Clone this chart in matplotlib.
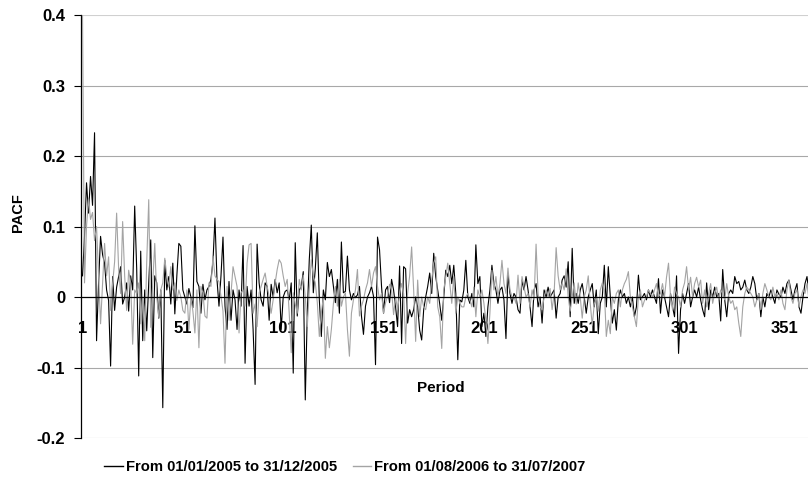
import numpy as np
import matplotlib
matplotlib.use('Agg')
import matplotlib.pyplot as plt
from matplotlib.lines import Line2D

plt.rcParams['font.family'] = ['Liberation Sans', 'DejaVu Sans']
plt.rcParams['font.weight'] = 'bold'
plt.rcParams['font.size'] = 10

# PACF values, lag 1..363
pacf_2005 = [
    0.03, 0.086, 0.162, 0.119, 0.171, 0.13, 0.233, -0.062, 0.02, 0.086,
    0.06, 0.048, 0.01, -0.005, -0.098, 0.029, -0.019, 0.014, 0.029, 0.043,
    -0.01, 0.0, 0.02, -0.02, 0.03, 0.01, 0.129, 0.04, -0.112, 0.065,
    -0.062, 0.01, -0.048, 0.02, 0.081, -0.086, 0.03, 0.02, -0.03, 0.01,
    -0.157, 0.052, 0.01, 0.029, -0.01, 0.048, -0.024, 0.03, 0.076, 0.072,
    0.01, 0.0, -0.01, 0.012, 0.0, -0.015, 0.101, 0.022, 0.015, -0.023,
    0.018, -0.004, 0.01, 0.015, 0.025, 0.05, 0.112, 0.025, -0.013, 0.03,
    0.085, -0.013, -0.046, 0.022, -0.033, 0.01, -0.004, -0.046, 0.01, -0.013,
    0.073, -0.094, 0.015, -0.013, 0.01, -0.046, -0.124, 0.075, 0.02, -0.004,
    -0.013, 0.02, 0.015, -0.033, 0.018, 0.0, 0.025, 0.006, 0.02, -0.046,
    0.0, 0.008, 0.01, -0.004, 0.02, -0.108, 0.077, -0.027, 0.01, 0.015,
    0.036, -0.146, -0.023, 0.053, 0.102, 0.006, 0.04, 0.091, -0.004, -0.056,
    0.01, -0.004, 0.049, 0.029, 0.039, 0.015, -0.008, 0.025, -0.023, 0.078,
    0.006, 0.008, 0.058, 0.01, -0.004, 0.005, -0.001, 0.003, 0.015, -0.027,
    -0.053, -0.013, 0.0, 0.006, 0.015, 0.001, -0.096, 0.085, 0.067, 0.015,
    -0.023, 0.01, 0.015, -0.008, 0.025, 0.01, -0.014, -0.042, 0.044, -0.066,
    0.043, 0.04, -0.037, -0.018, -0.028, -0.018, 0.0, -0.014, -0.047, -0.061,
    -0.018, 0.0, 0.015, 0.034, 0.005, 0.062, 0.029, 0.01, -0.01, -0.033,
    0.0, 0.038, 0.029, 0.045, 0.019, 0.045, 0.005, -0.089, -0.004, -0.007,
    0.01, 0.052, 0.0, -0.009, 0.005, -0.014, 0.074, 0.019, 0.029, -0.042,
    -0.023, -0.056, -0.014, 0.01, 0.045, 0.019, 0.01, -0.009, 0.01, 0.014,
    -0.004, -0.059, 0.033, 0.005, -0.009, 0.005, 0.0, -0.018, -0.023, 0.024,
    0.01, 0.029, 0.01, -0.014, -0.042, 0.01, 0.019, -0.014, 0.0, -0.037,
    0.01, 0.0, 0.014, 0.0, 0.005, 0.01, -0.03, 0.0, 0.005, 0.024,
    0.03, 0.014, 0.05, -0.028, 0.069, -0.009, 0.005, -0.009, 0.01, 0.019,
    0.0, -0.023, 0.0, 0.01, 0.019, -0.014, 0.01, -0.052, -0.009, 0.0,
    0.045, -0.014, 0.043, 0.0, -0.037, -0.018, -0.047, -0.004, 0.01, 0.0,
    0.005, -0.009, 0.0, -0.014, 0.0, -0.028, -0.014, 0.031, -0.004, 0.0,
    0.005, -0.004, 0.01, 0.0, 0.01, 0.0, -0.009, 0.026, -0.023, 0.01,
    0.0, -0.014, -0.028, 0.005, -0.014, -0.028, 0.03, -0.08, -0.018, 0.005,
    -0.009, 0.005, 0.019, -0.014, 0.0, 0.01, 0.0, 0.014, -0.004, -0.018,
    -0.028, 0.02, -0.018, 0.01, 0.0, 0.014, 0.0, 0.005, -0.034, 0.039,
    -0.004, -0.028, 0.005, 0.01, 0.005, 0.029, 0.019, 0.022, 0.01, 0.014,
    0.024, 0.01, 0.005, 0.014, 0.029, 0.019, -0.004, 0.005, -0.028, 0.0,
    -0.014, 0.005, 0.0, 0.01, 0.0, -0.009, 0.01, 0.004, 0.0, 0.014,
    0.005, 0.019, 0.024, 0.01, -0.004, 0.01, 0.019, -0.014, -0.023, 0.0,
    0.019, 0.029, 0.005,
]

pacf_2006 = [
    0.40, 0.02, 0.10, 0.14, 0.11, 0.12, 0.08, 0.10, 0.03, -0.038,
    0.02, 0.076, 0.03, 0.057, -0.019, 0.019, 0.05, 0.119, 0.04, 0.005,
    0.107, 0.03, -0.019, 0.038, 0.02, -0.067, 0.01, 0.005, 0.02, -0.038,
    0.0, -0.062, 0.05, 0.138, -0.043, 0.02, 0.076, 0.0, -0.029, 0.01,
    0.02, 0.055, 0.03, 0.014, 0.043, 0.01, 0.02, -0.005, 0.01, 0.0,
    -0.019, -0.023, 0.01, -0.046, 0.0, -0.02, -0.051, 0.01, -0.072, 0.015,
    0.006, -0.027, -0.03, 0.02, 0.015, 0.058, 0.03, 0.025, 0.022, 0.001,
    -0.02, -0.094, 0.015, -0.033, 0.006, 0.043, 0.029, 0.015, -0.051, 0.006,
    0.01, -0.013, 0.048, 0.074, 0.076, -0.023, -0.01, -0.042, 0.006, 0.015,
    0.025, 0.034, 0.015, 0.001, -0.023, -0.004, 0.02, 0.039, 0.053, 0.048,
    0.03, 0.015, 0.025, -0.023, -0.079, 0.006, -0.01, -0.023, 0.025, 0.01,
    0.031, 0.0, -0.042, 0.01, 0.053, 0.03, 0.02, -0.008, -0.056, -0.023,
    0.0, -0.087, -0.042, -0.072, -0.046, -0.01, 0.015, -0.013, 0.025, -0.013,
    0.0, 0.006, -0.046, -0.084, -0.023, -0.004, 0.01, 0.039, -0.027, -0.013,
    -0.004, 0.01, 0.02, 0.039, 0.015, 0.034, 0.043, 0.015, -0.004, 0.005,
    -0.023, -0.008, 0.001, 0.018, 0.01, -0.025, 0.0, -0.018, 0.005, 0.019,
    0.005, -0.066, 0.005, 0.03, 0.071, 0.01, -0.063, 0.024, -0.028, 0.0,
    -0.014, -0.018, 0.0, -0.009, 0.024, 0.048, 0.057, -0.014, -0.028, -0.073,
    0.01, 0.029, 0.048, 0.02, -0.009, 0.029, -0.023, 0.0, -0.009, -0.014,
    -0.014, 0.0, 0.005, -0.004, -0.014, 0.014, -0.028, 0.01, 0.0, 0.01,
    -0.009, -0.033, -0.066, -0.023, 0.038, 0.01, 0.029, 0.0, 0.019, 0.052,
    0.019, 0.005, 0.041, 0.01, 0.0, 0.0, -0.009, 0.031, -0.009, 0.029,
    0.014, 0.0, 0.005, -0.014, 0.01, -0.004, 0.075, 0.005, -0.014, -0.018,
    0.0, 0.01, 0.0, 0.012, -0.018, 0.005, 0.07, 0.03, 0.01, 0.02,
    0.01, 0.04, 0.0, -0.02, 0.0, 0.02, -0.01, 0.02, 0.0, -0.03,
    0.0, 0.01, 0.03, -0.01, -0.04, -0.01, 0.0, -0.02, 0.01, 0.02,
    0.01, -0.056, -0.033, -0.052, 0.0, -0.009, 0.005, 0.01, -0.014, 0.01,
    0.019, 0.025, 0.036, 0.0, -0.014, -0.028, -0.042, 0.0, 0.01, -0.014,
    -0.005, 0.0, 0.01, 0.005, 0.0, 0.01, 0.019, 0.0, 0.005, 0.019,
    0.0, 0.028, 0.048, 0.0, -0.018, 0.014, 0.005, 0.0, -0.014, 0.01,
    0.02, 0.043, 0.01, 0.028, 0.0, 0.019, 0.028, 0.014, 0.024, -0.009,
    0.01, -0.014, 0.005, 0.019, -0.009, 0.005, 0.014, -0.004, 0.01, 0.005,
    -0.004, 0.019, 0.0, -0.009, -0.005, -0.018, -0.014, -0.037, -0.056, -0.014,
    0.005, 0.014, 0.01, 0.005, 0.0, -0.014, -0.004, 0.005, -0.018, 0.005,
    0.019, 0.01, 0.0, -0.004, 0.014, 0.0, 0.005, -0.004, 0.01, -0.009,
    -0.018, 0.01, 0.024, 0.0, -0.009, 0.005, 0.01, -0.014, 0.0, 0.01,
    0.005, 0.019, -0.004,
]

lags = np.arange(1, len(pacf_2005) + 1)
x_ticks = [1, 51, 101, 151, 201, 251, 301, 351]
y_ticks = [-0.2, -0.1, 0, 0.1, 0.2, 0.3, 0.4]
y_labels = ['-0.2', '-0.1', '0', '0.1', '0.2', '0.3', '0.4']
names = ['From 01/01/2005 to 31/12/2005', 'From 01/08/2006 to 31/07/2007']

fig = plt.figure(figsize=(8.08, 4.88), dpi=100)
ax = fig.add_axes([80.5 / 808, 50 / 488, 727.5 / 808, 423 / 488])

for yv in y_ticks:
    if yv == 0.4:
        ax.axhline(yv, color='#d0d0d0', lw=0.8, zorder=0)
    elif yv != 0:
        ax.axhline(yv, color='#a8a8a8', lw=0.8, zorder=0)

ax.plot(lags, pacf_2005, color='black', lw=0.8, zorder=2)
ax.plot(lags, pacf_2006, color='#a4a4a4', lw=0.8, zorder=3)

ax.set_xlim(0, 362.5)
ax.set_ylim(-0.2, 0.4)

ax.spines['top'].set_visible(False)
ax.spines['right'].set_visible(False)
ax.spines['bottom'].set_position(('data', 0))
ax.spines['bottom'].set_linewidth(0.9)
ax.spines['bottom'].set_zorder(4)
ax.spines['left'].set_linewidth(0.9)

ax.set_yticks(y_ticks)
ax.set_yticklabels(y_labels)
ax.tick_params(axis='y', length=5, width=0.8, pad=6, labelsize=12)
ax.set_xticks(x_ticks)
ax.set_xticklabels([str(t) for t in x_ticks])
ax.tick_params(axis='x', length=0, pad=17, labelsize=12)
for lab in ax.get_xticklabels() + ax.get_yticklabels():
    lab.set_fontweight('bold')

fig.text(18 / 808, 1 - 213 / 488, 'PACF', rotation=90, ha='center', va='center',
         fontweight='bold', fontsize=10.5)
fig.text(441 / 808, 1 - 388 / 488, 'Period', ha='center', va='center',
         fontweight='bold', fontsize=11)

handles = [Line2D([], [], color='black', lw=1.0), Line2D([], [], color='#a4a4a4', lw=1.0)]
fig.legend(handles, names, loc='center', bbox_to_anchor=(345 / 808, 1 - 467 / 488), ncol=2,
           frameon=False, handlelength=1.25, handletextpad=0.2, columnspacing=1.1,
           prop={'weight': 'bold', 'size': 10.6})

fig.savefig('out.png', dpi=100)
